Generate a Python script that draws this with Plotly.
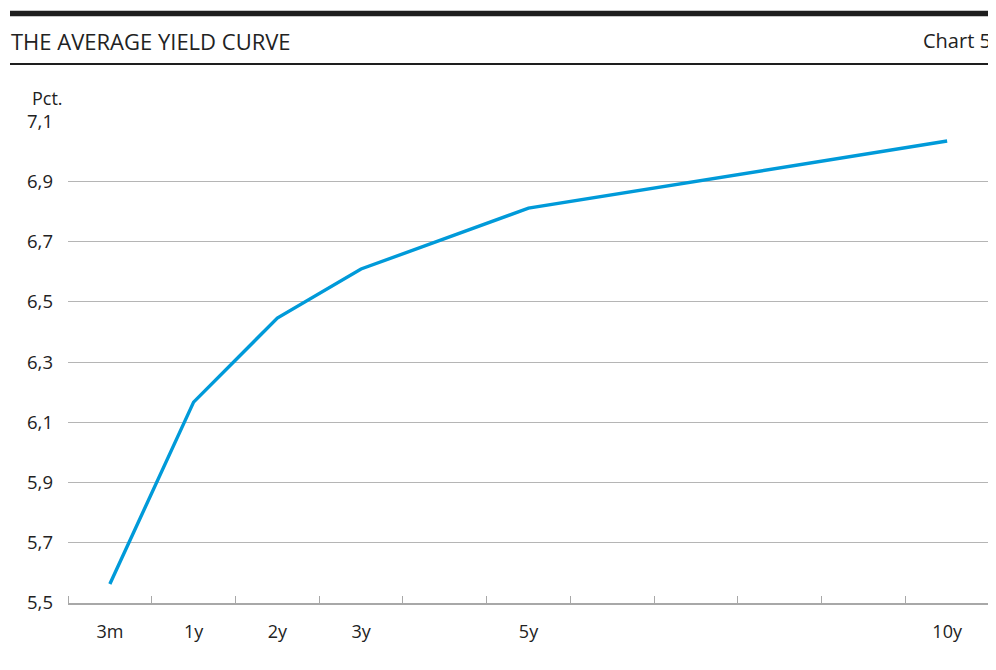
import plotly.graph_objects as go

# maturity slots on the x axis (one slot per year after 1y)
slots = ["3m", "1y", "2y", "3y", "4y", "5y", "6y", "7y", "8y", "9y", "10y"]
shown_labels = ["3m", "1y", "2y", "3y", "", "5y", "", "", "", "", "10y"]

maturities = ["3m", "1y", "2y", "3y", "5y", "10y"]
yields = [5.563, 6.167, 6.446, 6.609, 6.811, 7.034]

y_ticks = [5.5, 5.7, 5.9, 6.1, 6.3, 6.5, 6.7, 6.9, 7.1]

# page body has an 8px margin, so the figure is drawn 8px smaller
OFF = 8
W, H = 996 - OFF, 670 - OFF
L, R, T, B = 60, 7, 113, 67
pw, ph = W - L - R, H - T - B


def px(x):
    return (x - OFF - L) / pw


def py(y):
    return (H - B - (y - OFF)) / ph


FONT = "Open Sans, Noto Sans, sans-serif"
BLUE = "#009ad9"
GRID = "#b5b5b5"
TXT = "#222222"

x_pos = [slots.index(m) for m in maturities]

fig = go.Figure(go.Scatter(
    x=x_pos, y=yields, mode="lines",
    line=dict(color=BLUE, width=3.4),
    hoverinfo="skip",
))

fig.update_layout(
    width=W, height=H,
    margin=dict(l=L, r=R, t=T, b=B),
    paper_bgcolor="white", plot_bgcolor="white",
    separators=", ",
    showlegend=False,
    font=dict(family=FONT, size=18, color=TXT),
    xaxis=dict(
        range=[-0.5, len(slots) - 0.5],
        tickmode="array",
        tickvals=list(range(len(slots))),
        ticktext=shown_labels,
        ticks="",
        showgrid=False,
        zeroline=False,
        showline=True, linecolor="#a8a8a8", linewidth=1.5,
        tickfont=dict(family=FONT, size=18, color=TXT),
        ticklabelstandoff=12,
        minor=dict(
            tickmode="array",
            tickvals=[i - 0.5 for i in range(len(slots) + 1)],
            ticks="inside", ticklen=7, tickwidth=1, tickcolor="#a8a8a8",
            showgrid=False,
        ),
    ),
    yaxis=dict(
        range=[5.5, 7.1005],
        tickmode="array",
        tickvals=y_ticks,
        tickformat=".1f",
        ticks="",
        showgrid=True, gridcolor=GRID, gridwidth=1.2,
        zeroline=False, showline=False,
        tickfont=dict(family=FONT, size=18.5, color=TXT),
        ticklabelstandoff=14,
    ),
    shapes=[
        dict(type="line", xref="paper", yref="paper",
             x0=px(10), x1=px(996), y0=py(13.5), y1=py(13.5),
             line=dict(color="#1e1e1e", width=5.5)),
        dict(type="line", xref="paper", yref="paper",
             x0=px(10), x1=px(996), y0=py(64), y1=py(64),
             line=dict(color="#1e1e1e", width=2)),
    ],
    annotations=[
        dict(text="THE AVERAGE YIELD CURVE", xref="paper", yref="paper",
             x=px(9), y=py(41), xanchor="left", yanchor="middle",
             showarrow=False, font=dict(family=FONT, size=22, color=TXT)),
        dict(text="Chart 5", xref="paper", yref="paper",
             x=px(993), y=py(41), xanchor="right", yanchor="middle",
             showarrow=False, font=dict(family=FONT, size=20, color=TXT)),
        dict(text="Pct.", xref="paper", yref="paper",
             x=px(30), y=py(98), xanchor="left", yanchor="middle",
             showarrow=False, font=dict(family=FONT, size=18, color=TXT)),
    ],
)

fig.write_html("out.html")
